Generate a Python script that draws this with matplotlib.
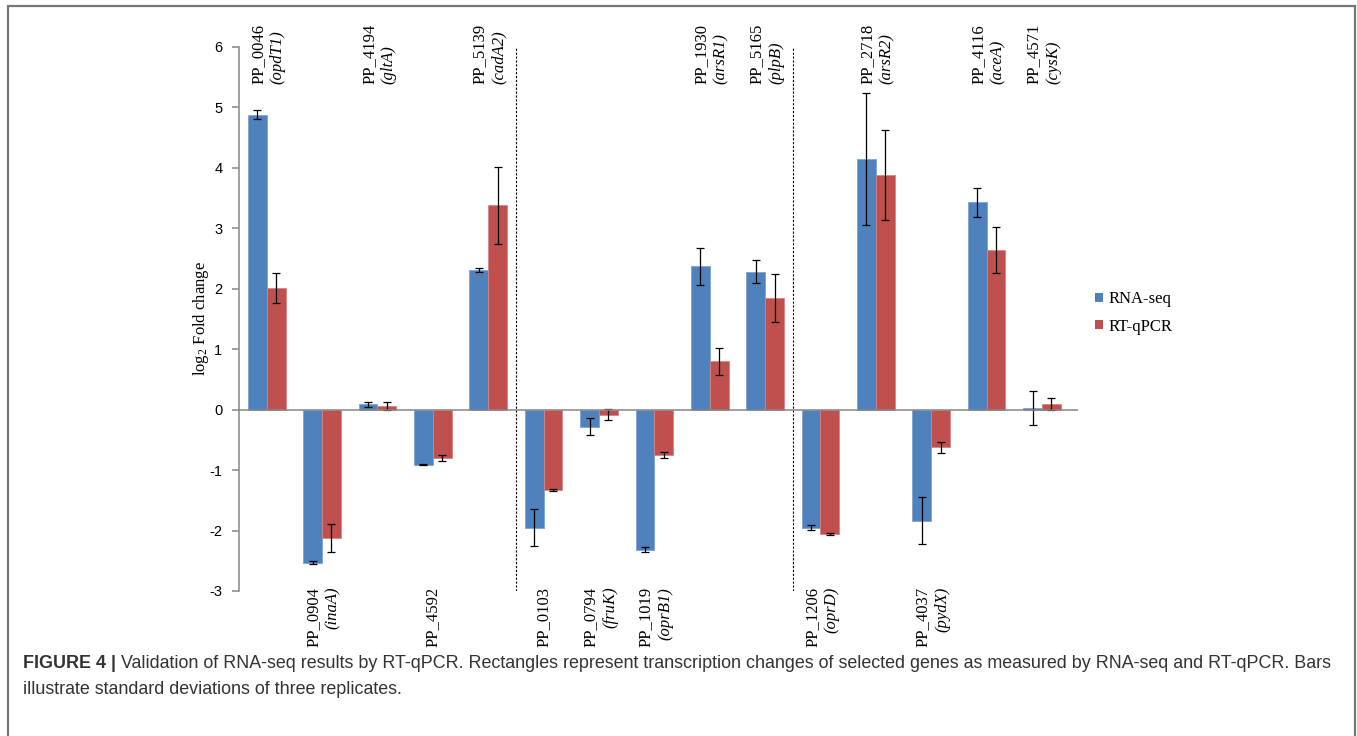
import matplotlib as mplt
mplt.use("Agg")
import matplotlib.pyplot as plt
from matplotlib.patches import Patch, Rectangle
import numpy as np

# gene ids and (optional) gene names, in plotting order
gene_ids = ["PP_0046", "PP_0904", "PP_4194", "PP_4592", "PP_5139",
            "PP_0103", "PP_0794", "PP_1019", "PP_1930", "PP_5165",
            "PP_1206", "PP_2718", "PP_4037", "PP_4116", "PP_4571"]
gene_names = ["opdT1", "inaA", "gltA", "", "cadA2",
              "", "fruK", "oprB1", "arsR1", "plpB",
              "oprD", "arsR2", "pydX", "aceA", "cysK"]

# log2 fold change, mean and standard deviation of three replicates
rnaseq = [4.88, -2.53, 0.09, -0.91, 2.31,
          -1.95, -0.28, -2.32, 2.37, 2.28,
          -1.95, 4.15, -1.84, 3.43, 0.03]
rnaseq_sd = [0.07, 0.03, 0.04, 0.01, 0.035,
             0.31, 0.14, 0.04, 0.31, 0.19,
             0.04, 1.09, 0.39, 0.245, 0.28]
qpcr = [2.01, -2.12, 0.06, -0.80, 3.38,
        -1.33, -0.08, -0.75, 0.80, 1.85,
        -2.06, 3.88, -0.62, 2.64, 0.10]
qpcr_sd = [0.25, 0.23, 0.06, 0.045, 0.64,
           0.02, 0.09, 0.055, 0.22, 0.40,
           0.02, 0.745, 0.09, 0.38, 0.10]

# group boundaries (dashed separators)
separators = [4.5, 9.5]

blue = "#4F81BD"
red = "#C0504D"
axis_gray = "#868686"
serif = ["Liberation Serif", "DejaVu Serif"]
sans = ["Liberation Sans", "DejaVu Sans"]

plt.rcParams["mathtext.fontset"] = "custom"
plt.rcParams["mathtext.rm"] = "Liberation Serif"
plt.rcParams["mathtext.it"] = "Liberation Serif:italic"
plt.rcParams["axes.unicode_minus"] = False

W, H = 1357, 736
fig = plt.figure(figsize=(W / 100, H / 100), dpi=100)
ax = fig.add_axes([239 / W, 1 - 591 / H, 839 / W, 544 / H])

x = np.arange(len(gene_ids))
bw = 0.34
err_kw = dict(ecolor="black", elinewidth=0.9, capsize=3.2, capthick=0.9)
ax.bar(x - bw / 2, rnaseq, bw, yerr=rnaseq_sd, color=blue,
       edgecolor="#7FA3D0", linewidth=0.6, error_kw=err_kw, zorder=2)
ax.bar(x + bw / 2, qpcr, bw, yerr=qpcr_sd, color=red,
       edgecolor="#D58584", linewidth=0.6, error_kw=err_kw, zorder=2)

ax.axhline(0, color=axis_gray, lw=1.1, zorder=3)
for sx in separators:
    ax.plot([sx, sx], [-3, 6], color="black", lw=0.8, ls=(0, (2, 1.5)), zorder=1)

ax.set_xlim(-0.5, 14.65)
ax.set_ylim(-3, 6)
ax.set_yticks(np.arange(-3, 7))
ax.set_xticks([])
for side in ["top", "right", "bottom"]:
    ax.spines[side].set_visible(False)
ax.spines["left"].set_color(axis_gray)
ax.spines["left"].set_linewidth(1.1)
ax.tick_params(axis="y", direction="out", length=5, color=axis_gray,
               width=1.1, labelsize=10.5, pad=7)
for lab in ax.get_yticklabels():
    lab.set_family(sans)

ax.set_ylabel(r"log$_2$ Fold change", family=serif, fontsize=12)
ax.yaxis.set_label_coords(-0.033, 0.5)

# gene labels: above positive groups, below negative groups
for i, (gid, gname) in enumerate(zip(gene_ids, gene_names)):
    up = rnaseq[i] > 0
    y = 5.38 if up else -2.93
    va = "bottom" if up else "top"
    if gname:
        ax.text(i - 0.15, y, gid, rotation=90, ha="center", va=va,
                family=serif, fontsize=12, clip_on=False)
        ax.text(i + 0.2, y, f"({gname})", rotation=90, ha="center", va=va,
                family=serif, style="italic", fontsize=12, clip_on=False)
    else:
        ax.text(i, y, gid, rotation=90, ha="center", va=va,
                family=serif, fontsize=12, clip_on=False)

handles = [Patch(facecolor=blue, edgecolor="none", label="RNA-seq"),
           Patch(facecolor=red, edgecolor="none", label="RT-qPCR")]
fig.legend(handles=handles, loc="upper left",
           bbox_to_anchor=(1095 / W, 1 - 291 / H), frameon=False,
           prop={"family": serif, "size": 12}, handlelength=0.45,
           handleheight=0.45, handletextpad=0.35, labelspacing=0.7,
           borderpad=0, borderaxespad=0)

# figure frame (open at the bottom)
fig.add_artist(Rectangle((7.5 / W, -0.05), (1355 - 7.5) / W, 1.05 - 6 / H,
                         transform=fig.transFigure, fill=False,
                         edgecolor="#777777", lw=1.6))

# caption
cap_color = "#333333"
cap_size = 12.9
renderer = fig.canvas.get_renderer()
t_bold = fig.text(23 / W, 1 - 663 / H, "FIGURE 4 |", family=sans,
                  weight="bold", fontsize=cap_size, color=cap_color, va="center")
bb = t_bold.get_window_extent(renderer)
fig.text((bb.x1 + 5) / W, 1 - 663 / H,
         "Validation of RNA-seq results by RT-qPCR. Rectangles represent "
         "transcription changes of selected genes as measured by RNA-seq "
         "and RT-qPCR. Bars", family=sans, fontsize=cap_size, color=cap_color,
         va="center")
fig.text(23 / W, 1 - 690 / H, "illustrate standard deviations of three replicates.",
         family=sans, fontsize=cap_size, color=cap_color, va="center")

fig.savefig("out.png", dpi=100)
